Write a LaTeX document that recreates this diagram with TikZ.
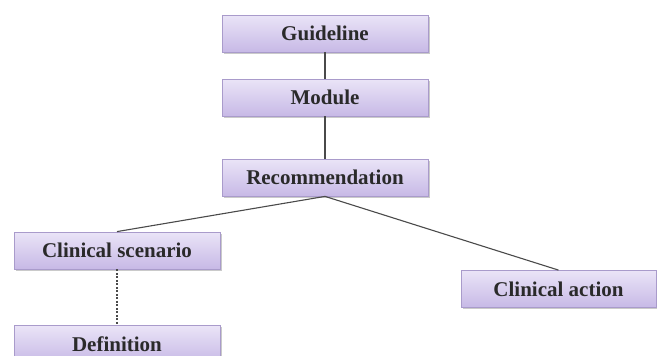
\documentclass[tikz,border=0pt]{standalone}
\usepackage{fontspec}
\setmainfont{Liberation Serif}
\usetikzlibrary{shadows}
\definecolor{boxtop}{HTML}{EAE4F7}
\definecolor{boxbot}{HTML}{C7B9E6}
\definecolor{boxline}{HTML}{A99BCB}
\definecolor{linkc}{HTML}{4A4A4A}
\definecolor{txt}{HTML}{2A2A2A}
\tikzset{
  box/.style={draw=boxline, line width=0.8pt, top color=boxtop, bottom color=boxbot,
    minimum width=206pt, minimum height=37pt, inner sep=0pt,
    font=\fontsize{21}{23}\selectfont\bfseries, text=txt,
    drop shadow={shadow xshift=1.5pt, shadow yshift=-1.5pt, opacity=0.35, fill=black!60}},
  link/.style={draw=linkc, line width=1.1pt},
  dlink/.style={draw=linkc, line width=1.1pt, dash pattern=on 2pt off 1.5pt}
}
\begin{document}
\begin{tikzpicture}[x=1pt,y=-1pt]
\useasboundingbox (0,0) rectangle (657,356);
\node[box] (g) at (325,33.5) {Guideline};
\node[box] (m) at (325,97.5) {Module};
\node[box] (r) at (325,177.5) {Recommendation};
\node[box] (cs) at (117,250.5) {Clinical scenario};
\node[box, minimum width=195pt] (ca) at (558.5,289) {Clinical action};
\node[box] (d) at (117,344) {Definition};
\draw[link] (g) -- (m);
\draw[link] (m) -- (r);
\draw[link] (r.south) -- (cs.north);
\draw[link] (r.south) -- (ca.north);
\draw[dlink] (cs.south) -- (d.north);
\end{tikzpicture}
\end{document}
